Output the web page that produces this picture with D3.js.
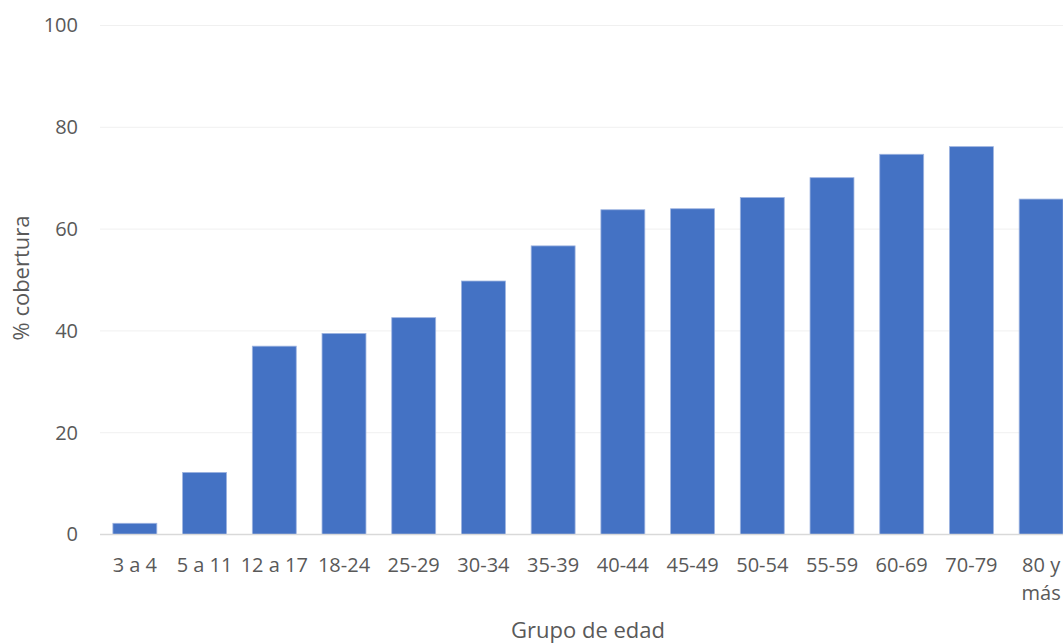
<!DOCTYPE html>
<html>
<head>
<meta charset="utf-8">
<script src="https://cdn.jsdelivr.net/npm/d3@7"></script>
<style>
  html, body { margin: 0; padding: 0; background: #ffffff; }
  svg { display: block; font-family: "Open Sans", "Noto Sans", sans-serif; }
</style>
</head>
<body>
<svg id="chart" width="1063" height="643"></svg>
<script>
// Grupos de edad y porcentaje de cobertura
const grupos = ["3 a 4", "5 a 11", "12 a 17", "18-24", "25-29", "30-34", "35-39",
                "40-44", "45-49", "50-54", "55-59", "60-69", "70-79", "80 y más"];
const cobertura = [2.2, 12.2, 37.0, 39.5, 42.6, 49.8, 56.7,
                   63.8, 64.0, 66.2, 70.1, 74.7, 76.2, 65.9];
const yTicks = [0, 20, 40, 60, 80, 100];

const svg = d3.select("#chart");
const margin = { left: 100, right: -13, top: 25.5, bottom: 108.5 };
const W = 1063, H = 643;

const x = d3.scaleBand()
  .domain(grupos)
  .range([margin.left, W - margin.right])
  .paddingInner(0.37)
  .paddingOuter(0.185);

const y = d3.scaleLinear()
  .domain([0, 100])
  .range([H - margin.bottom, margin.top]);

// Líneas de cuadrícula
svg.append("g")
  .selectAll("line")
  .data(yTicks.filter(d => d > 0))
  .join("line")
  .attr("x1", margin.left)
  .attr("x2", W)
  .attr("y1", d => y(d))
  .attr("y2", d => y(d))
  .attr("stroke", "#f0f0f0")
  .attr("stroke-width", 1);

// Eje Y (solo etiquetas)
const yAxis = d3.axisLeft(y).tickValues(yTicks).tickSize(0).tickPadding(0);
const gy = svg.append("g")
  .attr("transform", `translate(${margin.left - 22},0)`)
  .call(yAxis);
gy.select(".domain").remove();
gy.selectAll("text")
  .attr("fill", "#595959")
  .attr("font-size", 20)
  .attr("font-family", "'Open Sans', 'Noto Sans', sans-serif");

// Barras
svg.append("g")
  .selectAll("rect")
  .data(grupos.map((g, i) => ({ g, v: cobertura[i] })))
  .join("rect")
  .attr("x", d => x(d.g))
  .attr("width", x.bandwidth())
  .attr("y", d => y(d.v))
  .attr("height", d => y(0) - y(d.v))
  .attr("fill", "#4472C4")
  .attr("stroke", "#9db3e0")
  .attr("stroke-width", 0.8);

// Línea base
svg.append("line")
  .attr("x1", margin.left)
  .attr("x2", W)
  .attr("y1", y(0))
  .attr("y2", y(0))
  .attr("stroke", "#d9d9d9")
  .attr("stroke-width", 1.5);

// Eje X (etiquetas, con salto de línea en "80 y más")
const xAxis = d3.axisBottom(x).tickSize(0).tickPadding(0).tickFormat(() => "");
const gx = svg.append("g")
  .attr("transform", `translate(0,${y(0)})`)
  .call(xAxis);
gx.select(".domain").remove();
gx.selectAll(".tick text").remove();
gx.selectAll(".tick").each(function(d) {
  const t = d3.select(this).append("text")
    .attr("text-anchor", "middle")
    .attr("fill", "#595959")
    .attr("font-size", 20)
    .attr("font-family", "'Open Sans', 'Noto Sans', sans-serif");
  const lines = d === "80 y más" ? ["80 y", "más"] : [d];
  lines.forEach((ln, i) => {
    t.append("tspan").attr("x", 0).attr("y", 37 + i * 28).text(ln);
  });
});

// Títulos de ejes
svg.append("text")
  .attr("x", 588)
  .attr("y", 638)
  .attr("text-anchor", "middle")
  .attr("fill", "#595959")
  .attr("font-size", 22)
  .text("Grupo de edad");

svg.append("text")
  .attr("transform", `translate(29,278) rotate(-90)`)
  .attr("text-anchor", "middle")
  .attr("fill", "#595959")
  .attr("font-size", 22)
  .text("% cobertura");
</script>
</body>
</html>
